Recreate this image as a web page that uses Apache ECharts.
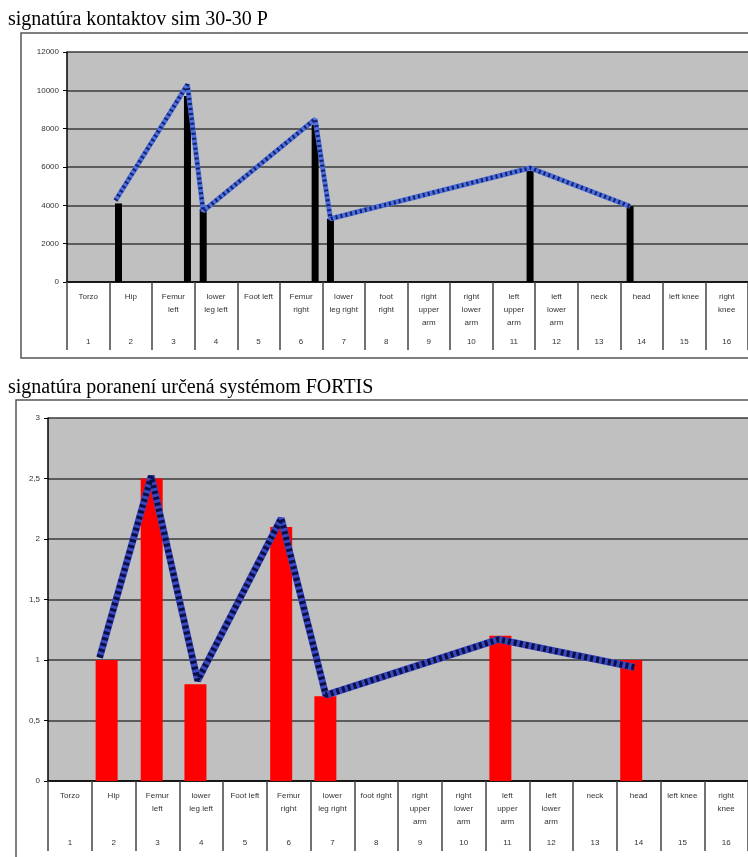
<!DOCTYPE html>
<html>
<head>
<meta charset="utf-8">
<script src="https://cdn.jsdelivr.net/npm/echarts@6/dist/echarts.min.js"></script>
<style>
  html, body { margin: 0; padding: 0; background: #fff; }
  #chart { width: 748px; height: 857px; }
</style>
</head>
<body>
<div id="chart"></div>
<script>
// category table (labels under each plot)
var contactLabels = ['Torzo', 'Hip', 'Femur\nleft', 'lower\nleg left', 'Foot left', 'Femur\nright', 'lower\nleg right', 'foot\nright',
  'right\nupper\narm', 'right\nlower\narm', 'left\nupper\narm', 'left\nlower\narm', 'neck', 'head', 'left knee', 'right\nknee'];
var injuryLabels = ['Torzo', 'Hip', 'Femur\nleft', 'lower\nleg left', 'Foot left', 'Femur\nright', 'lower\nleg right', 'foot right',
  'right\nupper\narm', 'right\nlower\narm', 'left\nupper\narm', 'left\nlower\narm', 'neck', 'head', 'left knee', 'right\nknee'];
var categoryNumbers = ['1', '2', '3', '4', '5', '6', '7', '8', '9', '10', '11', '12', '13', '14', '15', '16'];

// top chart: x is position in category units (cell n spans n-1 .. n)
var contactBarX = [1.21, 2.83, 3.2, 5.83, 6.19, 10.88, 13.23];
var contactBarY = [4100, 9700, 3800, 8200, 3300, 5800, 3950];
var contactLineX = [1.14, 2.83, 3.2, 5.83, 6.19, 10.88, 13.23];
var contactLineY = [4250, 10300, 3700, 8500, 3300, 5950, 3950];

// bottom chart
var injuryBarX = [1.34, 2.37, 3.37, 5.33, 6.34, 10.34, 13.33];
var injuryBarY = [1, 2.5, 0.8, 2.1, 0.7, 1.2, 1];
var injuryLineX = [1.18, 2.36, 3.42, 5.33, 6.35, 10.3, 13.4];
var injuryLineY = [1.02, 2.52, 0.83, 2.17, 0.71, 1.17, 0.94];

function pairs(xs, ys) {
  return xs.map(function (x, i) { return [x, ys[i]]; });
}

var labelFont = { fontFamily: 'Liberation Sans', fontSize: 8, color: '#333' };

function tableAxes(gridIndex, labels, numMargin) {
  return [
    {
      gridIndex: gridIndex, type: 'value', min: 0, max: 16, show: false
    },
    {
      gridIndex: gridIndex, type: 'category', data: labels, position: 'bottom',
      axisLine: { lineStyle: { color: '#000', width: 1.5 } },
      axisTick: { show: true, length: numMargin + 12, lineStyle: { color: '#444', width: 1.5 } },
      axisLabel: Object.assign({ interval: 0, margin: 8, lineHeight: 13, align: 'center', verticalAlign: 'top' }, labelFont),
      splitLine: { show: false }
    },
    {
      gridIndex: gridIndex, type: 'category', data: categoryNumbers, position: 'bottom',
      axisLine: { show: false }, axisTick: { show: false },
      axisLabel: Object.assign({ interval: 0, margin: numMargin }, labelFont)
    }
  ];
}

var titleStyle = { fontFamily: 'Liberation Serif', fontSize: 20, fontWeight: 'normal', color: '#000' };

var chart = echarts.init(document.getElementById('chart'));

chart.setOption({
  backgroundColor: '#fff',
  animation: false,
  title: [
    { text: 'signatúra kontaktov sim 30-30 P', left: 3, top: 5, textStyle: titleStyle },
    { text: 'signatúra poranení určená systémom FORTIS', left: 3, top: 373, textStyle: titleStyle }
  ],
  graphic: [
    { type: 'rect', shape: { x: 21, y: 33, width: 740, height: 325 }, style: { fill: 'none', stroke: '#555', lineWidth: 1.5 } },
    { type: 'rect', shape: { x: 16, y: 400, width: 745, height: 470 }, style: { fill: 'none', stroke: '#555', lineWidth: 1.5 } }
  ],
  grid: [
    { left: 67, top: 52, width: 683, height: 230, show: true, backgroundColor: '#c0c0c0', borderWidth: 0 },
    { left: 48, top: 418, width: 705, height: 363, show: true, backgroundColor: '#c0c0c0', borderWidth: 0 }
  ],
  xAxis: tableAxes(0, contactLabels, 56).concat(tableAxes(1, injuryLabels, 58)),
  yAxis: [
    {
      gridIndex: 0, type: 'value', min: 0, max: 12000, interval: 2000,
      axisLine: { show: true, lineStyle: { color: '#000', width: 1.5 } },
      axisTick: { show: true, length: 4, lineStyle: { color: '#000' } },
      axisLabel: Object.assign({
        margin: 8,
        formatter: function (v) { return String(v); }
      }, labelFont),
      splitLine: { lineStyle: { color: '#3a3a3a', width: 1.5 } }
    },
    {
      gridIndex: 1, type: 'value', min: 0, max: 3, interval: 0.5,
      axisLine: { show: true, lineStyle: { color: '#000', width: 1.5 } },
      axisTick: { show: true, length: 4, lineStyle: { color: '#000' } },
      axisLabel: Object.assign({
        margin: 8,
        formatter: function (v) { return String(v).replace('.', ','); }
      }, labelFont),
      splitLine: { lineStyle: { color: '#3a3a3a', width: 1.5 } }
    }
  ],
  series: [
    {
      type: 'bar', xAxisIndex: 0, yAxisIndex: 0, barWidth: 7,
      itemStyle: { color: '#000' },
      data: pairs(contactBarX, contactBarY)
    },
    {
      type: 'line', xAxisIndex: 0, yAxisIndex: 0, symbol: 'none', z: 3,
      lineStyle: { color: '#4d70dc', width: 5 },
      data: pairs(contactLineX, contactLineY)
    },
    {
      type: 'line', xAxisIndex: 0, yAxisIndex: 0, symbol: 'none', z: 4,
      lineStyle: { color: '#14206a', width: 4, type: [2, 3] },
      data: pairs(contactLineX, contactLineY)
    },
    {
      type: 'bar', xAxisIndex: 3, yAxisIndex: 1, barWidth: 22,
      itemStyle: { color: '#ff0000' },
      data: pairs(injuryBarX, injuryBarY)
    },
    {
      type: 'line', xAxisIndex: 3, yAxisIndex: 1, symbol: 'none', z: 3,
      lineStyle: { color: '#3a48c0', width: 7 },
      data: pairs(injuryLineX, injuryLineY)
    },
    {
      type: 'line', xAxisIndex: 3, yAxisIndex: 1, symbol: 'none', z: 4,
      lineStyle: { color: '#0a0f45', width: 6, type: [3, 3] },
      data: pairs(injuryLineX, injuryLineY)
    }
  ]
});
</script>
</body>
</html>
